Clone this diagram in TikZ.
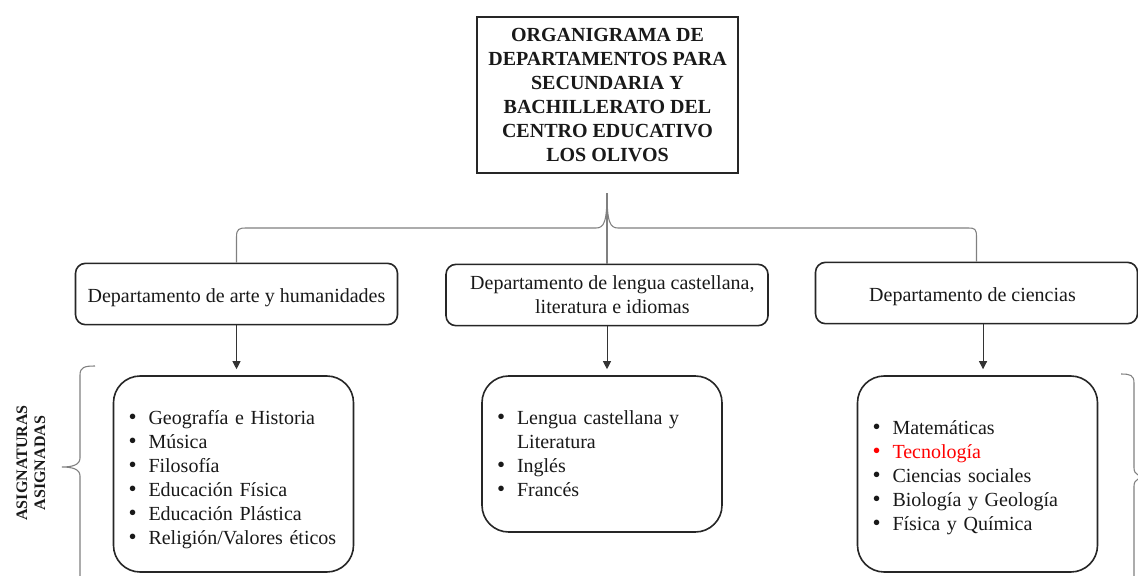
\documentclass[tikz,border=0pt]{standalone}
\usepackage{fontspec}
\setmainfont{Liberation Serif}
\usetikzlibrary{arrows.meta,calc}
\newcommand{\itm}{\makebox[15pt][l]{\raisebox{0.3pt}{\scalebox{1.15}{•}}}}
\begin{document}
\begin{tikzpicture}[x=0.75pt,y=-0.75pt,
  every node/.style={font=\fontsize{15}{18}\selectfont, text=black!90},
  titlebox/.style={draw=black!85,line width=1.5pt,minimum width=195.75pt,minimum height=117pt,align=center,inner sep=0pt,font=\bfseries\fontsize{15}{18}\selectfont},
  deptbox/.style={draw=black!85,line width=1.2pt,rounded corners=7.5pt,minimum width=241.5pt,minimum height=46pt,align=center},
  subjbox/.style={draw=black!85,line width=1.2pt,rounded corners=20pt,align=left,inner xsep=11.25pt,text width=157.5pt},
  bracestyle/.style={draw=black!50,line width=0.8pt},
  arr/.style={draw=black!80,line width=0.7pt,-{Triangle[width=6pt,length=6pt]},shorten >=4.5pt},
  sidelabel/.style={font=\bfseries\fontsize{12}{13.5}\selectfont,align=center,rotate=90}
]
\clip (0,0) rectangle (1138,575);
\fill[white] (0,0) rectangle (1138,575);

% title
\node[titlebox] (title) at (607.5,95) {ORGANIGRAMA DE\\DEPARTAMENTOS PARA\\SECUNDARIA Y\\BACHILLERATO DEL\\CENTRO EDUCATIVO\\LOS OLIVOS};

% departments
\node[deptbox,text height=14pt,text depth=1pt] (dL) at (236.5,294) {Departamento de arte y humanidades};
\node[deptbox] (dM) at (607,295) {\hspace*{8pt}Departamento de lengua castellana,\\\hspace*{8pt}literatura e idiomas};
\node[deptbox,text height=14pt,text depth=1pt] (dR) at (976.5,293) {Departamento de ciencias\hspace*{6pt}};

% subject boxes
\node[subjbox,minimum height=147pt] (sL) at (233.5,474) {%
\itm\rule{0pt}{19.5pt}Geografía e Historia\\
\itm Música\\
\itm Filosofía\\
\itm Educación Física\\
\itm Educación Plástica\\
\itm Religión/Valores éticos};
\node[subjbox,minimum height=117pt] (sM) at (602,454) {%
\itm Lengua castellana y\\
\hspace*{15pt}Literatura\\
\itm Inglés\\
\itm Francés};
\node[subjbox,minimum height=147pt] (sR) at (977.5,474) {%
\itm\rule{0pt}{16.5pt}Matemáticas\\
{\color{red}\itm Tecnología}\\
\itm Ciencias sociales\\
\itm Biología y Geología\\
\itm Física y Química};

% top brace
\coordinate (tip) at (607,193);
\draw[bracestyle] (dL.north) -- (236.5,237) .. controls (236.5,229) and (239,228) .. (246,228)
  -- (596,228) .. controls (604,228) and (607,222) .. (tip)
  .. controls (607,222) and (610,228) .. (618,228)
  -- (968,228) .. controls (975,228) and (976.5,229) .. (976.5,237) -- (dR.north);
\draw[bracestyle] (tip) -- (dM.north);

% arrows
\draw[arr] (dL.south) -- (dL.south |- sL.north);
\draw[arr] (dM.south) -- (dM.south |- sM.north);
\draw[arr] ([xshift=4.9pt]dR.south) -- ([xshift=4.9pt]dR.south |- sR.north);

% side braces
\draw[bracestyle] (95,366) .. controls (85,366) and (80,367) .. (80,375) -- (80,458)
  .. controls (80,465) and (72,467) .. (62,467)
  .. controls (72,467) and (80,469) .. (80,476) -- (80,580);
\draw[bracestyle] (1121,374) .. controls (1130,374) and (1134,375) .. (1134,383) -- (1134,468)
  .. controls (1134,475) and (1140,477) .. (1150,477)
  .. controls (1140,477) and (1134,479) .. (1134,486) -- (1134,580);

\node[sidelabel] (lab) at (31,463) {ASIGNATURAS\\ASIGNADAS};
\end{tikzpicture}
\end{document}
